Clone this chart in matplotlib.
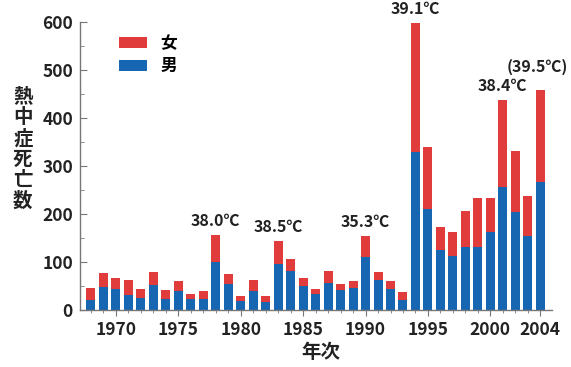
import matplotlib
matplotlib.use('Agg')
import matplotlib.pyplot as plt
from matplotlib.ticker import MultipleLocator

plt.rcParams['font.family'] = ['Noto Sans CJK JP', 'DejaVu Sans']
plt.rcParams['font.weight'] = 'bold'

# 年次ごとの熱中症死亡数 (男 / 女)
years = list(range(1968, 2005))
male = [22, 49, 44, 32, 25, 52, 24, 39, 24, 24, 101, 54, 19, 39, 17, 96, 82, 50, 33,
        57, 42, 46, 111, 62, 43, 21, 330, 210, 126, 112, 132, 132, 163, 257, 204, 155, 266]
female = [24, 29, 22, 30, 18, 28, 18, 22, 9, 16, 56, 21, 10, 23, 12, 48, 25, 17, 12,
          25, 12, 15, 44, 18, 17, 17, 267, 130, 48, 51, 75, 101, 70, 181, 127, 82, 192]
temp_years = [1978, 1983, 1990, 1994, 2001, 2004]
temp_labels = ['38.0℃', '38.5℃', '35.3℃', '39.1℃', '38.4℃', '(39.5℃)']
xticks = [1970, 1975, 1980, 1985, 1990, 1995, 2000, 2004]

red = '#e03c3c'
blue = '#1666b2'
grey = '#777777'
ink = '#222222'

fig = plt.figure(figsize=(5.71, 3.67), dpi=100)
ax = fig.add_axes([0.140, 0.155, 0.827, 0.785])

ax.bar(years, male, width=0.72, color=blue, label='男')
ax.bar(years, female, width=0.72, bottom=male, color=red, label='女')

# 気温の注記 (2004年だけ少し高く・左寄り)
totals = [m + f for m, f in zip(male, female)]
for yr, txt in zip(temp_years, temp_labels):
	tot = totals[years.index(yr)]
	dx, dy = 0, 13
	if yr == 2004:
		dx, dy = -0.2, 32
	ax.text(yr + dx, tot + dy, txt, ha='center', va='bottom', fontsize=11.5,
			color=ink)

ax.set_xlim(1967.12, 2004.95)
ax.set_ylim(0, 600)
ax.yaxis.set_major_locator(MultipleLocator(100))
ax.yaxis.set_minor_locator(MultipleLocator(50))
ax.set_xticks(xticks)
ax.set_xticks(years, minor=True)
ax.tick_params(axis='y', which='both', direction='in', color=grey,
			   labelsize=12.5, pad=5)
ax.tick_params(axis='y', which='major', length=5)
ax.tick_params(axis='y', which='minor', length=3)
ax.tick_params(axis='x', which='both', direction='out', color=grey,
			   labelsize=12.5, pad=4)
ax.tick_params(axis='x', which='major', length=4)
ax.tick_params(axis='x', which='minor', length=2)
for lab in ax.get_xticklabels() + ax.get_yticklabels():
	lab.set_fontweight('bold')
	lab.set_color(ink)

for side in ['top', 'right']:
	ax.spines[side].set_visible(False)
for side in ['left', 'bottom']:
	ax.spines[side].set_color(grey)
	ax.spines[side].set_linewidth(1.0)

# 縦書きの軸ラベル
fig.text(0.040, 0.594, '\n'.join('熱中症死亡数'), ha='center', va='center',
		 fontsize=14, linespacing=1.12, color=ink)
fig.text(0.561, 0.040, '年次', ha='center', va='center', fontsize=14,
		 color=ink)

handles, labels = ax.get_legend_handles_labels()
ax.legend(handles[::-1], labels[::-1], loc='upper left',
		  bbox_to_anchor=(0.051, 1.009), frameon=False, fontsize=12,
		  handlelength=1.7, handleheight=0.7, labelspacing=0.3,
		  handletextpad=0.8)

fig.savefig('out.png', dpi=100)
